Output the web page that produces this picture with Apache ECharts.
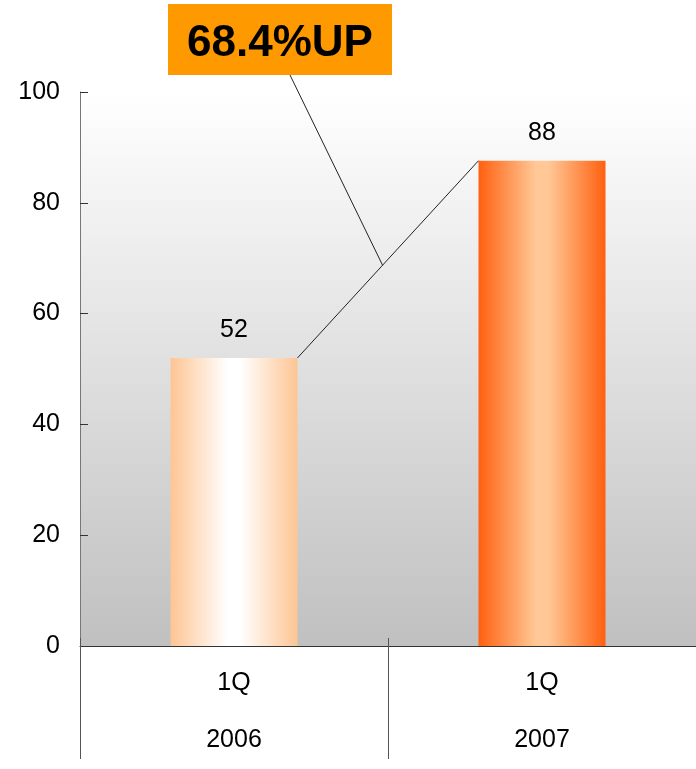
<!DOCTYPE html>
<html><head><meta charset="utf-8">
<script src="https://cdn.jsdelivr.net/npm/echarts@6/dist/echarts.min.js"></script>
<style>html,body{margin:0;padding:0;background:#fff;overflow:hidden}#c{width:696px;height:769px}</style>
</head><body><div id="c"></div>
<script>
const quarters = ['1Q', '1Q'];
const years = ['2006', '2007'];
const values = [52, 87.6];
const yTicks = [0, 20, 40, 60, 80, 100];
const growthLabel = '68.4%UP';

const chart = echarts.init(document.getElementById('c'));
const font = "'Liberation Sans', Arial, sans-serif";
const barW = 127;

chart.setOption({
  animation: false,
  grid: { left: 80, top: 92, width: 624, height: 564, show: true, borderWidth: 0,
    backgroundColor: { type: 'linear', x: 0, y: 0, x2: 0, y2: 1,
      colorStops: [{ offset: 0, color: '#ffffff' }, { offset: 1, color: '#c0c0c0' }] } },
  xAxis: [{
    type: 'category', data: quarters.map((q, i) => q + '\n' + years[i]),
    axisLine: { show: true, lineStyle: { color: '#333', width: 1 } },
    axisTick: { show: true, length: 113, lineStyle: { color: '#555' } },
    axisLabel: { margin: 9, lineHeight: 57, fontSize: 25, color: '#000', fontFamily: font }
  }, {
    type: 'category', data: quarters, position: 'bottom',
    axisLine: { show: false },
    axisTick: { show: true, inside: true, length: 8, lineStyle: { color: '#555' } },
    axisLabel: { show: false }
  }],
  yAxis: {
    type: 'value', min: 0, max: 100, interval: 20,
    axisLine: { show: true, lineStyle: { color: '#777' } },
    axisTick: { show: true, inside: true, length: 8, lineStyle: { color: '#333' } },
    splitLine: { show: false },
    axisLabel: { margin: 20, fontSize: 25, color: '#000', fontFamily: font,
      formatter: v => yTicks.includes(v) ? String(v) : '' }
  },
  series: [{
    type: 'bar', barWidth: barW,
    data: values.map((v, i) => ({
      value: v,
      itemStyle: { color: i === 0
        ? { type: 'linear', x: 0, y: 0, x2: 1, y2: 0, colorStops: [
            { offset: 0, color: '#fdc594' }, { offset: 0.45, color: '#ffffff' },
            { offset: 0.55, color: '#ffffff' }, { offset: 1, color: '#fdc594' }] }
        : { type: 'linear', x: 0, y: 0, x2: 1, y2: 0, colorStops: [
            { offset: 0, color: '#ff6010' }, { offset: 0.45, color: '#ffc896' },
            { offset: 0.55, color: '#ffc896' }, { offset: 1, color: '#ff6010' }] } }
    })),
    label: { show: true, position: 'top', distance: 15, fontSize: 25, color: '#000',
      fontFamily: font, formatter: p => Math.round(p.value) }
  }, {
    type: 'custom',
    data: [0],
    z: 5,
    renderItem: function (params, api) {
      const p0 = api.coord([0, values[0]]);
      const p1 = api.coord([1, values[1]]);
      const a = [p0[0] + barW / 2, p0[1]];
      const b = [p1[0] - barW / 2, p1[1]];
      const t = 0.47;
      const m = [a[0] + (b[0] - a[0]) * t, a[1] + (b[1] - a[1]) * t];
      return { type: 'group', children: [
        { type: 'line', shape: { x1: a[0], y1: a[1], x2: b[0], y2: b[1] },
          style: { stroke: '#222', lineWidth: 1 } },
        { type: 'line', shape: { x1: 290, y1: 75, x2: m[0], y2: m[1] },
          style: { stroke: '#222', lineWidth: 1 } }
      ] };
    }
  }],
  graphic: [{
    type: 'group', left: 168, top: 4, children: [
      { type: 'rect', shape: { x: 0, y: 0, width: 224, height: 71 }, style: { fill: '#ff9900' } },
      { type: 'text', style: { x: 112, y: 40, text: growthLabel, align: 'center', verticalAlign: 'middle',
        font: "bold 44px 'Liberation Sans', Arial, sans-serif", fill: '#000' } }
    ]
  }]
});
</script></body></html>
